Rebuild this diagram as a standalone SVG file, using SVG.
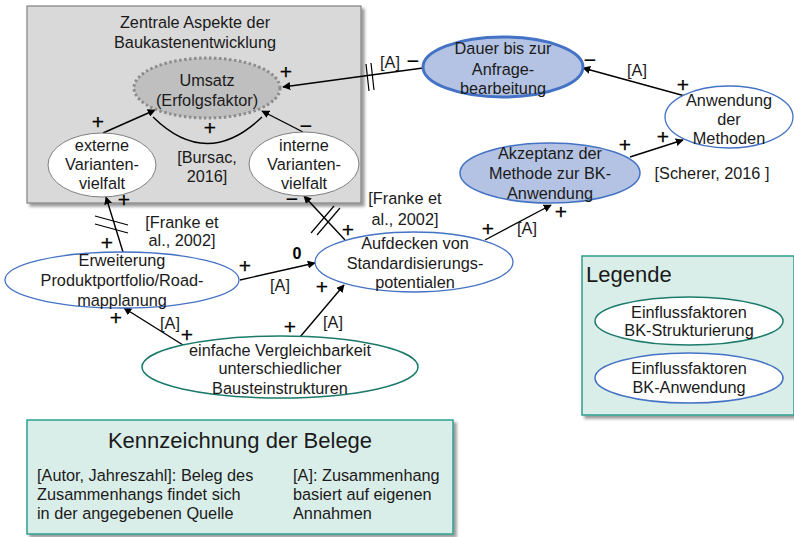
<svg xmlns="http://www.w3.org/2000/svg" width="794" height="537" viewBox="0 0 794 537">
  <defs>
    <marker id="arr" viewBox="0 0 10 10" refX="9" refY="5" markerWidth="8" markerHeight="8" markerUnits="userSpaceOnUse" orient="auto">
      <path d="M0,0 L10,5 L0,10 z" fill="#000"/>
    </marker>
    <filter id="shadow" x="-5%" y="-5%" width="115%" height="115%">
      <feDropShadow dx="3" dy="3" stdDeviation="1.5" flood-color="#000" flood-opacity="0.4"/>
    </filter>
  </defs>
  <style>
    text { font-family: "Liberation Sans", Arial, sans-serif; font-size: 16.3px; fill: #1a1a1a; }
    .c { text-anchor: middle; }
    .sign { font-size: 21px; text-anchor: middle; fill: #000; stroke: #000; stroke-width: 0.25; }
    .edge { stroke: #000; stroke-width: 1.4; fill: none; }
    .arrow { marker-end: url(#arr); }
    .brk { stroke: #000; stroke-width: 1.2; }
    .n-white { fill: #fff; stroke: #4472c4; stroke-width: 1.3; }
    .n-blue { fill: #b4c3e3; stroke: #4472c4; stroke-width: 1.5; }
    .n-green { fill: #fff; stroke: #1b7a6b; stroke-width: 1.5; }
    .n-var { fill: #fff; stroke: #7f7f7f; stroke-width: 1; }
    .panel { fill: #daeee9; stroke: #2e9e8e; stroke-width: 1.5; }
  </style>

  <!-- central aspects panel -->
  <g id="panel-zentral">
    <rect x="27" y="6" width="334" height="197" fill="#d9d9d9" stroke="#808080" stroke-width="1.2" filter="url(#shadow)"/>
    <text class="c" x="195" y="28">Zentrale Aspekte der</text>
    <text class="c" x="195" y="48">Baukastenentwicklung</text>
  </g>

  <!-- legend panel -->
  <g id="legende">
    <rect class="panel" x="582" y="256" width="212" height="159" filter="url(#shadow)"/>
    <text x="586" y="282" style="font-size:22px">Legende</text>
    <ellipse class="n-green" cx="689" cy="321" rx="94" ry="24"/>
    <text class="c" x="689" y="318">Einflussfaktoren</text>
    <text class="c" x="689" y="336">BK-Strukturierung</text>
    <ellipse class="n-white" cx="689" cy="378" rx="94" ry="25" style="stroke-width:1.6"/>
    <text class="c" x="689" y="374">Einflussfaktoren</text>
    <text class="c" x="689" y="393">BK-Anwendung</text>
  </g>

  <!-- evidence key panel -->
  <g id="belege">
    <rect class="panel" x="27" y="420" width="426" height="114" filter="url(#shadow)"/>
    <text class="c" x="240" y="448" style="font-size:22px">Kennzeichnung der Belege</text>
    <text x="37" y="481">[Autor, Jahreszahl]: Beleg des</text>
    <text x="37" y="500">Zusammenhangs findet sich</text>
    <text x="37" y="519">in der angegebenen Quelle</text>
    <text x="293" y="481">[A]: Zusammenhang</text>
    <text x="293" y="500">basiert auf eigenen</text>
    <text x="293" y="519">Annahmen</text>
  </g>

  <!-- connectors -->
  <g id="connectors">
    <!-- externe -> Umsatz -->
    <line class="edge arrow" x1="103" y1="133" x2="155" y2="110"/>
    <!-- interne -> Umsatz -->
    <line class="edge arrow" x1="303" y1="132" x2="262" y2="111"/>
    <!-- interaction arc -->
    <path class="edge" d="M153,117 Q207,170 262,117"/>
    <!-- Dauer -> Umsatz -->
    <line class="edge arrow" x1="423" y1="68" x2="283" y2="87"/>
    <line class="brk" x1="366" y1="64" x2="369" y2="91"/>
    <line class="brk" x1="371" y1="63" x2="374" y2="90"/>
    <!-- Anwendung -> Dauer -->
    <line class="edge arrow" x1="685" y1="96" x2="583" y2="68"/>
    <!-- Akzeptanz -> Anwendung -->
    <line class="edge arrow" x1="630" y1="157" x2="683" y2="140"/>
    <!-- Aufdecken -> Akzeptanz -->
    <line class="edge arrow" x1="485" y1="240" x2="551" y2="205"/>
    <!-- Aufdecken -> interne -->
    <line class="edge arrow" x1="345" y1="240" x2="304" y2="196"/>
    <line class="brk" x1="311" y1="233" x2="334" y2="206"/>
    <line class="brk" x1="317" y1="235" x2="340" y2="208"/>
    <!-- Erweiterung -> externe -->
    <line class="edge arrow" x1="123" y1="252" x2="106" y2="197"/>
    <line class="brk" x1="95" y1="216" x2="128" y2="225"/>
    <line class="brk" x1="95" y1="224" x2="128" y2="233"/>
    <!-- Erweiterung -> Aufdecken -->
    <line class="edge arrow" x1="240" y1="280" x2="315" y2="263"/>
    <!-- einfache -> Erweiterung -->
    <line class="edge arrow" x1="183" y1="345" x2="124" y2="308"/>
    <!-- einfache -> Aufdecken -->
    <line class="edge arrow" x1="300" y1="337" x2="344" y2="285"/>

    <!-- polarity signs -->
    <text class="sign" x="98" y="129">+</text>
    <text class="sign" x="306" y="133">−</text>
    <text class="sign" x="210" y="135">+</text>
    <text class="sign" x="286" y="79">+</text>
    <text class="sign" x="413" y="68">−</text>
    <text class="sign" x="590" y="67">−</text>
    <text class="sign" x="683" y="92">+</text>
    <text class="sign" x="625" y="152">+</text>
    <text class="sign" x="663" y="144">+</text>
    <text class="sign" x="488" y="236">+</text>
    <text class="sign" x="561" y="219">+</text>
    <text class="sign" x="348" y="237">+</text>
    <text class="sign" x="292" y="206">−</text>
    <text class="sign" x="124" y="207">+</text>
    <text class="sign" x="107" y="250">+</text>
    <text class="sign" x="245" y="273">+</text>
    <text x="297" y="259" style="font-size:16px;font-weight:bold;text-anchor:middle;fill:#000">0</text>
    <text class="sign" x="116" y="325">+</text>
    <text class="sign" x="187" y="342">+</text>
    <text class="sign" x="290" y="334">+</text>
    <text class="sign" x="322" y="294">+</text>

    <!-- source labels -->
    <text class="c" x="207" y="163">[Bursac,</text>
    <text class="c" x="207" y="182">2016]</text>
    <text class="c" x="390" y="68">[A]</text>
    <text class="c" x="637" y="76">[A]</text>
    <text class="c" x="712" y="179">[Scherer, 2016 ]</text>
    <text class="c" x="527" y="234">[A]</text>
    <text class="c" x="405" y="204">[Franke et</text>
    <text class="c" x="405" y="225">al., 2002]</text>
    <text class="c" x="182" y="228">[Franke et</text>
    <text class="c" x="182" y="246">al., 2002]</text>
    <text class="c" x="280" y="291">[A]</text>
    <text class="c" x="170" y="329">[A]</text>
    <text class="c" x="333" y="328">[A]</text>
  </g>

  <!-- nodes -->
  <g id="umsatz">
    <ellipse cx="207" cy="88" rx="73" ry="30" fill="#bfbfbf" stroke="#8c8c8c" stroke-width="3" stroke-dasharray="2.5,2.5"/>
    <text class="c" x="207" y="86">Umsatz</text>
    <text class="c" x="207" y="106">(Erfolgsfaktor)</text>
  </g>
  <g id="externe-variantenvielfalt">
    <ellipse class="n-var" cx="102" cy="165" rx="54" ry="32"/>
    <text class="c" x="102" y="151">externe</text>
    <text class="c" x="102" y="170">Varianten-</text>
    <text class="c" x="102" y="189">vielfalt</text>
  </g>
  <g id="interne-variantenvielfalt">
    <ellipse class="n-var" cx="304" cy="164" rx="55" ry="32"/>
    <text class="c" x="304" y="151">interne</text>
    <text class="c" x="304" y="170">Varianten-</text>
    <text class="c" x="304" y="189">vielfalt</text>
  </g>
  <g id="dauer">
    <ellipse class="n-blue" cx="503" cy="67" rx="80" ry="30" style="stroke-width:3"/>
    <text class="c" x="503" y="54">Dauer bis zur</text>
    <text class="c" x="503" y="75">Anfrage-</text>
    <text class="c" x="503" y="94">bearbeitung</text>
  </g>
  <g id="anwendung-methoden">
    <ellipse class="n-white" cx="729" cy="117" rx="64" ry="31"/>
    <text class="c" x="729" y="106">Anwendung</text>
    <text class="c" x="729" y="125">der</text>
    <text class="c" x="729" y="144">Methoden</text>
  </g>
  <g id="akzeptanz">
    <ellipse class="n-blue" cx="550" cy="173" rx="90" ry="30"/>
    <text class="c" x="550" y="159">Akzeptanz der</text>
    <text class="c" x="550" y="179">Methode zur BK-</text>
    <text class="c" x="550" y="199">Anwendung</text>
  </g>
  <g id="aufdecken">
    <ellipse class="n-white" cx="414" cy="262" rx="99" ry="30"/>
    <text class="c" x="415" y="249">Aufdecken von</text>
    <text class="c" x="415" y="269">Standardisierungs-</text>
    <text class="c" x="415" y="288">potentialen</text>
  </g>
  <g id="erweiterung">
    <ellipse class="n-white" cx="122" cy="280" rx="117" ry="28"/>
    <text class="c" x="122" y="266">Erweiterung</text>
    <text class="c" x="122" y="286">Produktportfolio/Road-</text>
    <text class="c" x="122" y="306">mapplanung</text>
  </g>
  <g id="vergleichbarkeit">
    <ellipse class="n-green" cx="280" cy="367" rx="138" ry="31"/>
    <text class="c" x="280" y="356">einfache Vergleichbarkeit</text>
    <text class="c" x="280" y="374">unterschiedlicher</text>
    <text class="c" x="280" y="394">Bausteinstrukturen</text>
  </g>
</svg>
